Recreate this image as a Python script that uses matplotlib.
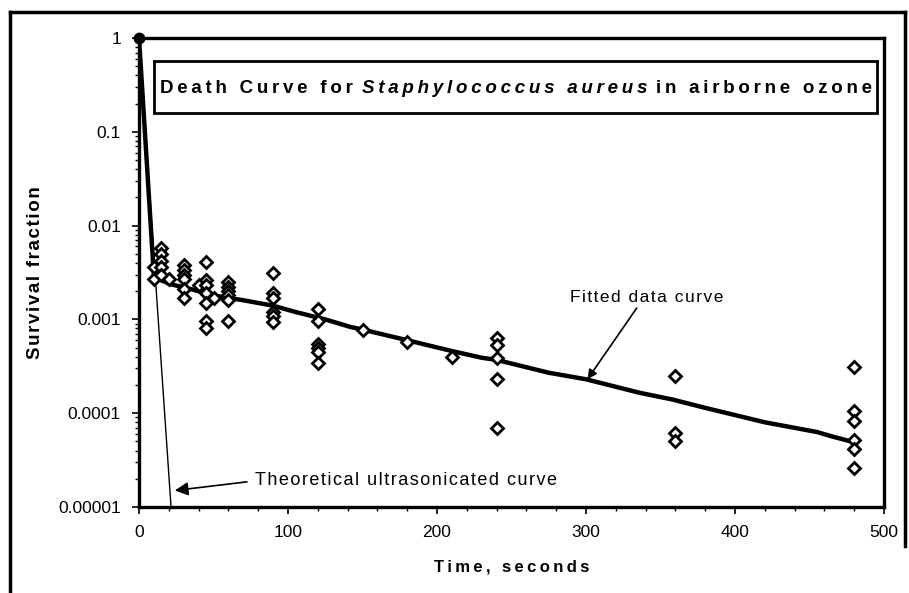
import matplotlib.pyplot as plt
import numpy as np
from matplotlib.ticker import FixedLocator, NullFormatter, LogLocator
from matplotlib.patches import Rectangle
from matplotlib.lines import Line2D

plt.rcParams['font.family'] = ['Liberation Sans', 'DejaVu Sans']

# measured survival fractions (open diamonds)
obs_t = [0,
         10, 10,
         15, 15, 15, 15, 15,
         20,
         30, 30, 30, 30, 30, 30,
         40,
         45, 45, 45, 45, 45, 45, 45,
         50,
         60, 60, 60, 60, 60, 60,
         90, 90, 90, 90, 90, 90,
         120, 120, 120, 120, 120, 120,
         150, 180, 210,
         240, 240, 240, 240, 240,
         360, 360, 360,
         480, 480, 480, 480, 480, 480]
obs_v = [1.0,
         0.0036, 0.0027,
         0.0058, 0.005, 0.0042, 0.0036, 0.003,
         0.0027,
         0.0038, 0.0034, 0.003, 0.0027, 0.0021, 0.0017,
         0.0023,
         0.0041, 0.0026, 0.0023, 0.0019, 0.0015, 0.00095, 0.0008,
         0.0017,
         0.0025, 0.0022, 0.002, 0.0018, 0.0016, 0.00097,
         0.0031, 0.0019, 0.0017, 0.0012, 0.0011, 0.00094,
         0.0013, 0.00097, 0.00055, 0.0005, 0.00045, 0.00034,
         0.00078, 0.00057, 0.0004,
         0.00063, 0.00053, 0.00039, 0.00023, 0.00007,
         0.00025, 0.000062, 0.00005,
         0.00031, 0.000105, 0.000083, 0.000052, 0.000042, 0.000026]

# fitted data curve
fit_t = [0, 10, 20, 35, 50, 70, 90, 105, 125, 142, 150, 180, 210, 230, 240,
         275, 300, 336, 358, 380, 420, 455, 466, 480]
fit_v = [1, 0.0029, 0.0024, 0.0021, 0.0018, 0.0016, 0.0014, 0.0012, 0.001,
         0.00083, 0.00078, 0.0006, 0.00046, 0.00039, 0.00037, 0.00027,
         0.00023, 0.000165, 0.00014, 0.000114, 0.00008, 0.000063,
         0.000056, 0.000049]

# theoretical ultrasonicated curve
theo_t = [0, 21.5]
theo_v = [1, 0.00001]

y_ticks = [1, 0.1, 0.01, 0.001, 0.0001, 0.00001]
y_labels = ['1', '0.1', '0.01', '0.001', '0.0001', '0.00001']
x_ticks = [0, 100, 200, 300, 400, 500]


def spaced(s, sep='\u2009'):
    # the scanned chart uses wide letter spacing
    return sep.join(s)


fig = plt.figure(figsize=(9.09, 5.93), dpi=100)
ax = fig.add_axes([139/909, 1-507/593, 745/909, 469/593])

ax.plot(theo_t, theo_v, color='black', lw=1.0, zorder=2)
ax.plot(fit_t, fit_v, color='black', lw=3.2, zorder=3)
ax.plot(obs_t[1:], obs_v[1:], ls='none', marker='D', ms=6.5, mfc='white',
        mec='black', mew=2.0, zorder=4)
ax.plot(obs_t[:1], obs_v[:1], ls='none', marker='o', ms=7.5, color='black',
        zorder=5, clip_on=False)

ax.set_yscale('log')
ax.set_xlim(0, 500)
ax.set_ylim(0.00001, 1)
ax.set_yticks(y_ticks)
ax.set_yticklabels(y_labels)
ax.yaxis.set_minor_locator(LogLocator(base=10, subs=np.arange(2, 10)))
ax.yaxis.set_minor_formatter(NullFormatter())
ax.set_xticks(x_ticks)
ax.xaxis.set_minor_locator(FixedLocator(np.arange(0, 501, 20)))

ax.tick_params(axis='both', which='major', direction='out', length=5,
               width=1.2, labelsize=12.5, pad=8)
ax.tick_params(axis='both', which='minor', direction='out', length=3,
               width=1.0)
for sp in ax.spines.values():
    sp.set_linewidth(2.4)

ax.set_ylabel(spaced('Survival fraction', '\u200a'), fontsize=13.5,
              fontweight='bold', labelpad=10)
ax.set_xlabel(spaced('Time, seconds'), fontsize=12, fontweight='bold',
              labelpad=14)

# title box
ax.add_patch(Rectangle((0.02, 0.84), 0.97, 0.111, transform=ax.transAxes,
                       fill=False, lw=2.0, ec='black', zorder=6))
t1 = ax.text(0.028, 0.874, spaced('Death Curve for '), transform=ax.transAxes,
             fontsize=13.5, fontweight='bold', va='bottom', zorder=7)
t2 = ax.annotate(spaced('Staphylococcus aureus'), xy=(1, 0), xycoords=t1,
                 fontsize=13.5, fontweight='bold', fontstyle='italic',
                 va='bottom', zorder=7)
ax.annotate(spaced(' in airborne ozone'), xy=(1, 0), xycoords=t2,
            fontsize=13.5, fontweight='bold', va='bottom', zorder=7)

# arrows
ax.annotate(spaced('Fitted data curve', '\u200a'), xy=(301, 0.00023),
            xytext=(289, 0.0017), fontsize=12.5, va='center',
            arrowprops=dict(arrowstyle='-|>', color='black', lw=1.2,
                            mutation_scale=14, shrinkA=0, shrinkB=0,
                            relpos=(0.45, 0)))
ax.annotate(spaced('Theoretical ultrasonicated curve', '\u200a'),
            xy=(24, 1.5e-5), xytext=(78, 1.9e-5), fontsize=13, va='center',
            arrowprops=dict(arrowstyle='-|>', color='black', lw=1.2,
                            mutation_scale=20, shrinkA=4, shrinkB=0,
                            relpos=(0, 0.5)))

# outer frame
fig.add_artist(Line2D([10/909, 905/909], [1-12/593, 1-12/593], color='black',
                      lw=2.5, transform=fig.transFigure))
fig.add_artist(Line2D([10/909, 10/909], [0, 1-12/593], color='black',
                      lw=2.5, transform=fig.transFigure))
fig.add_artist(Line2D([905/909, 905/909], [1-12/593, 0.08], color='black',
                      lw=2.5, transform=fig.transFigure))

fig.savefig('out.png', dpi=100)
